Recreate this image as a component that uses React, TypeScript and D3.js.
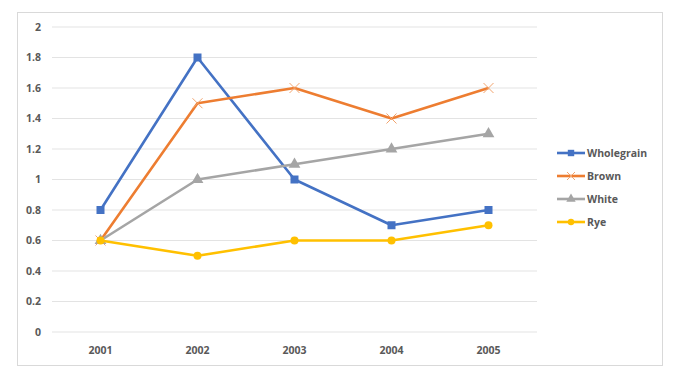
import React, { useEffect, useRef } from 'react';
import * as d3 from 'd3';

const years = ['2001', '2002', '2003', '2004', '2005'];
const wholegrain = [0.8, 1.8, 1.0, 0.7, 0.8];
const brown = [0.6, 1.5, 1.6, 1.4, 1.6];
const white = [0.6, 1.0, 1.1, 1.2, 1.3];
const rye = [0.6, 0.5, 0.6, 0.6, 0.7];
const yTicks = [0, 0.2, 0.4, 0.6, 0.8, 1, 1.2, 1.4, 1.6, 1.8, 2];

const seriesList = [
  { name: 'Wholegrain', values: wholegrain, color: '#4472C4', marker: 'square' },
  { name: 'Brown', values: brown, color: '#ED7D31', marker: 'x' },
  { name: 'White', values: white, color: '#A5A5A5', marker: 'triangle' },
  { name: 'Rye', values: rye, color: '#FFC000', marker: 'circle' }
];

const W = 679;
const H = 390;
const FONT = '"Open Sans", "Liberation Sans", sans-serif';

function drawMarker(g: any, kind: string, x: number, y: number, color: string, scale = 1) {
  if (kind === 'square') {
    const s = 8 * scale;
    g.append('rect').attr('x', x - s / 2).attr('y', y - s / 2).attr('width', s).attr('height', s).attr('fill', color);
  } else if (kind === 'circle') {
    g.append('circle').attr('cx', x).attr('cy', y).attr('r', 4 * scale).attr('fill', color);
  } else if (kind === 'triangle') {
    const sym = d3.symbol().type(d3.symbolTriangle).size(60 * scale * scale);
    g.append('path').attr('d', sym()).attr('transform', `translate(${x},${y})`).attr('fill', color);
  } else {
    // thin, slightly faded cross like the original
    const r = 5 * scale;
    g.append('path')
      .attr('d', `M${x - r},${y - r}L${x + r},${y + r}M${x - r},${y + r}L${x + r},${y - r}`)
      .attr('stroke', '#F2A46E').attr('stroke-width', 1).attr('fill', 'none');
  }
}

export default function App() {
  const svgRef = useRef<SVGSVGElement>(null);

  useEffect(() => {
    if (!svgRef.current) return;
    const svg = d3.select(svgRef.current);
    svg.selectAll('*').remove();

    svg.append('rect').attr('width', W).attr('height', H).attr('fill', '#fff');
    // chart frame
    svg.append('rect')
      .attr('x', 17.5).attr('y', 12.5).attr('width', 645).attr('height', 353)
      .attr('fill', '#fff').attr('stroke', '#d9d9d9').attr('stroke-width', 1);

    const x = d3.scaleBand().domain(years).range([52, 537]);
    const y = d3.scaleLinear().domain([0, 2]).range([332, 27]);

    // gridlines
    svg.append('g').selectAll('line').data(yTicks).enter().append('line')
      .attr('x1', 52).attr('x2', 537)
      .attr('y1', d => y(d)).attr('y2', d => y(d))
      .attr('stroke', '#e3e3e3').attr('stroke-width', 1.2);

    // y labels
    svg.append('g').selectAll('text').data(yTicks).enter().append('text')
      .attr('x', 41).attr('y', d => y(d)).attr('dy', '0.35em')
      .attr('text-anchor', 'end')
      .style('font-family', FONT).style('font-size', '10.5px').style('font-weight', 700)
      .style('fill', '#595959')
      .text(d => String(d));

    // x labels
    svg.append('g').selectAll('text').data(years).enter().append('text')
      .attr('x', d => (x(d) || 0) + x.bandwidth() / 2).attr('y', 350).attr('dy', '0.35em')
      .attr('text-anchor', 'middle')
      .style('font-family', FONT).style('font-size', '10.5px').style('font-weight', 700)
      .style('fill', '#595959')
      .text(d => d);

    const cx = (i: number) => (x(years[i]) || 0) + x.bandwidth() / 2;

    seriesList.forEach(s => {
      const line = d3.line<number>().x((_, i) => cx(i)).y(v => y(v));
      svg.append('path').datum(s.values).attr('d', line)
        .attr('fill', 'none').attr('stroke', s.color).attr('stroke-width', 2.6)
        .attr('stroke-linejoin', 'round');
      const mg = svg.append('g');
      s.values.forEach((v, i) => drawMarker(mg, s.marker, cx(i), y(v), s.color));
    });

    // legend
    const legendY = d3.scalePoint<string>().domain(seriesList.map(s => s.name)).range([153, 222]);
    seriesList.forEach(s => {
      const ly = legendY(s.name) || 0;
      const lg = svg.append('g');
      lg.append('line').attr('x1', 557).attr('x2', 585).attr('y1', ly).attr('y2', ly)
        .attr('stroke', s.color).attr('stroke-width', 2.6);
      drawMarker(lg, s.marker, 571, ly, s.color, 0.8);
      lg.append('text').attr('x', 587).attr('y', ly).attr('dy', '0.35em')
        .style('font-family', FONT).style('font-size', '10.5px').style('font-weight', 700)
        .style('fill', '#595959')
        .text(s.name);
    });
  }, []);

  return (
    <svg ref={svgRef} width={W} height={H}
      style={{ position: 'absolute', left: 0, top: 0, display: 'block' }} />
  );
}
